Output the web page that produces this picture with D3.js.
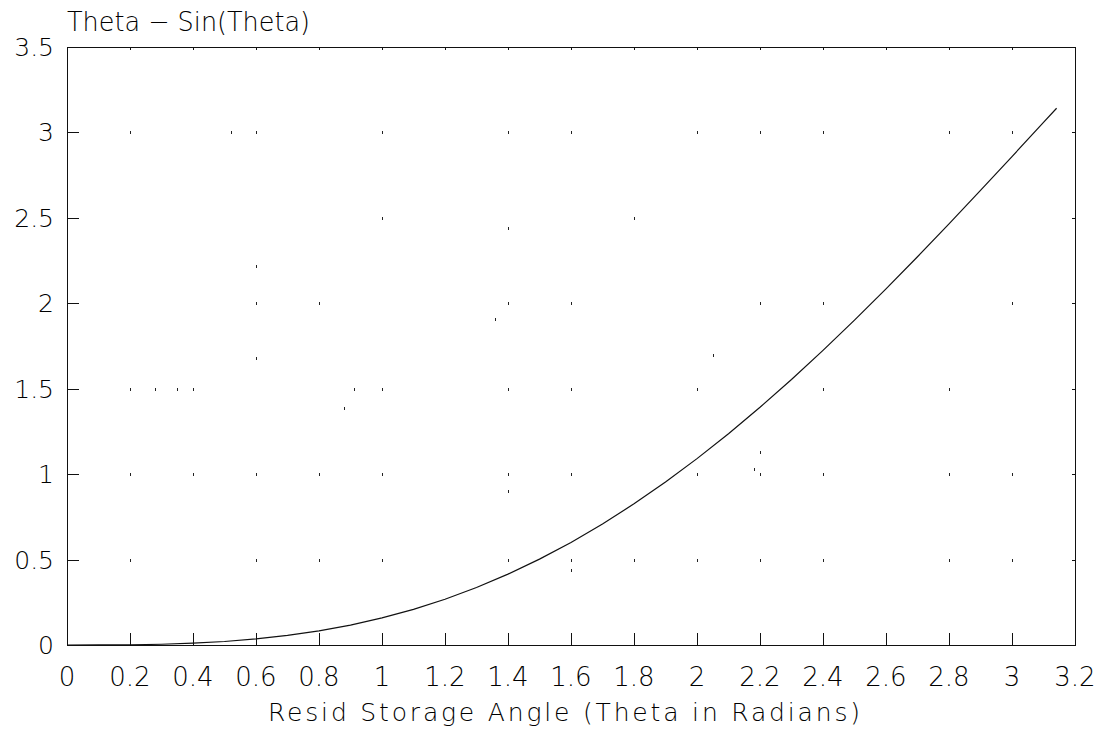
<!DOCTYPE html>
<html>
<head>
<meta charset="utf-8">
<script src="https://cdn.jsdelivr.net/npm/d3@7"></script>
<style>
  html, body { margin: 0; padding: 0; background: #fff; }
  svg { display: block; }
  text { font-family: "DejaVu Sans", sans-serif; font-weight: 200; fill: #000; }
</style>
</head>
<body>
<svg id="chart" width="1102" height="729"></svg>
<script>
// Theta (radians) and theta - sin(theta)
const theta = [0, 0.1, 0.2, 0.3, 0.4, 0.5, 0.6, 0.7, 0.8, 0.9, 1.0, 1.1, 1.2, 1.3, 1.4, 1.5,
  1.6, 1.7, 1.8, 1.9, 2.0, 2.1, 2.2, 2.3, 2.4, 2.5, 2.6, 2.7, 2.8, 2.9, 3.0, 3.1, 3.1416];
const thetaMinusSin = [0, 0.0002, 0.0013, 0.0045, 0.0106, 0.0206, 0.0354, 0.0558, 0.0826,
  0.1167, 0.1585, 0.2088, 0.2680, 0.3364, 0.4146, 0.5025, 0.6004, 0.7083, 0.8262, 0.9537,
  1.0907, 1.2368, 1.3915, 1.5543, 1.7245, 1.9015, 2.0845, 2.2726, 2.4650, 2.6608, 2.8589,
  3.0584, 3.1416];

const xTicks = [0, 0.2, 0.4, 0.6, 0.8, 1, 1.2, 1.4, 1.6, 1.8, 2, 2.2, 2.4, 2.6, 2.8, 3, 3.2];
const yTicks = [0, 0.5, 1, 1.5, 2, 2.5, 3, 3.5];

// Faint remnants of the dotted grid: [x, y]
const gridDotX = [0.2, 0.52, 0.6, 1.0, 1.4, 1.6, 2.0, 2.2, 2.4, 2.8, 3.0,
  1.0, 1.4, 1.8, 0.6,
  0.6, 0.8, 1.4, 1.6, 2.2, 2.4, 3.0, 1.36, 0.6,
  0.2, 0.28, 0.35, 0.4, 0.91, 1.0, 1.4, 1.6, 2.0, 2.4, 2.8, 0.88, 2.05,
  0.2, 0.4, 0.6, 0.8, 1.0, 1.4, 1.6, 2.0, 2.2, 2.4, 2.8, 3.0, 1.4, 2.2, 2.18,
  0.2, 0.6, 0.8, 1.0, 1.4, 1.6, 1.8, 2.0, 2.2, 2.4, 2.8, 3.0, 1.6];
const gridDotY = [3, 3, 3, 3, 3, 3, 3, 3, 3, 3, 3,
  2.5, 2.44, 2.5, 2.22,
  2, 2, 2, 2, 2, 2, 2, 1.91, 1.68,
  1.5, 1.5, 1.5, 1.5, 1.5, 1.5, 1.5, 1.5, 1.5, 1.5, 1.5, 1.39, 1.70,
  1, 1, 1, 1, 1, 1, 1, 1, 1, 1, 1, 1, 0.9, 1.13, 1.03,
  0.5, 0.5, 0.5, 0.5, 0.5, 0.5, 0.5, 0.5, 0.5, 0.5, 0.5, 0.5, 0.44];

const svg = d3.select("#chart");
const plot = { left: 67, right: 1075, top: 47, bottom: 645 };

const x = d3.scaleLinear().domain([0, 3.2]).range([plot.left, plot.right]);
const y = d3.scaleLinear().domain([0, 3.5]).range([plot.bottom, plot.top]);

const fmt = d => d3.format("~g")(d);

// grid dot remnants
svg.append("g")
  .selectAll("line")
  .data(gridDotX.map((d, i) => [d, gridDotY[i]]))
  .join("line")
  .attr("x1", d => Math.round(x(d[0])) + 0.5)
  .attr("x2", d => Math.round(x(d[0])) + 0.5)
  .attr("y1", d => Math.round(y(d[1])) - 1)
  .attr("y2", d => Math.round(y(d[1])) + 2)
  .attr("stroke", "#222")
  .attr("stroke-width", 1);

// bottom axis: inward ticks
const gx = svg.append("g").attr("transform", `translate(0,${plot.bottom})`)
  .call(d3.axisBottom(x).tickValues(xTicks).tickSizeInner(-12).tickSizeOuter(0).tickFormat(""));

// top axis: short inward ticks
const gxt = svg.append("g").attr("transform", `translate(0,${plot.top})`)
  .call(d3.axisTop(x).tickValues(xTicks).tickSizeInner(-3).tickSizeOuter(0).tickFormat(""));

// left axis: inward ticks
const gy = svg.append("g").attr("transform", `translate(${plot.left},0)`)
  .call(d3.axisLeft(y).tickValues(yTicks).tickSizeInner(-12).tickSizeOuter(0).tickFormat(""));

// right axis: short inward ticks
const gyr = svg.append("g").attr("transform", `translate(${plot.right},0)`)
  .call(d3.axisRight(y).tickValues(yTicks).tickSizeInner(-3).tickSizeOuter(0).tickFormat(""));

[gx, gxt, gy, gyr].forEach(g => {
  g.selectAll("path, line").attr("stroke", "#111").attr("stroke-width", 1).attr("shape-rendering", "crispEdges");
});

// x tick labels
svg.append("g").selectAll("text")
  .data(xTicks)
  .join("text")
  .attr("x", d => x(d))
  .attr("y", 686)
  .attr("text-anchor", "middle")
  .attr("font-size", 26)
  .text(fmt);

// y tick labels
svg.append("g").selectAll("text")
  .data(yTicks)
  .join("text")
  .attr("x", 54)
  .attr("y", d => y(d) + 9)
  .attr("text-anchor", "end")
  .attr("font-size", 25)
  .text(fmt);

// curve
const line = d3.line().x(d => x(d[0])).y(d => y(d[1]));
svg.append("path")
  .datum(theta.map((t, i) => [t, thetaMinusSin[i]]))
  .attr("d", line)
  .attr("fill", "none")
  .attr("stroke", "#111")
  .attr("stroke-width", 1.2);

// title
svg.append("text")
  .attr("x", 67)
  .attr("y", 31)
  .attr("font-size", 27)
  .attr("textLength", 243)
  .attr("lengthAdjust", "spacingAndGlyphs")
  .text("Theta \u2212 Sin(Theta)");

// x axis title
svg.append("text")
  .attr("x", 268)
  .attr("y", 721)
  .attr("font-size", 25)
  .attr("textLength", 592)
  .attr("lengthAdjust", "spacing")
  .text("Resid  Storage Angle (Theta in Radians)");
</script>
</body>
</html>
